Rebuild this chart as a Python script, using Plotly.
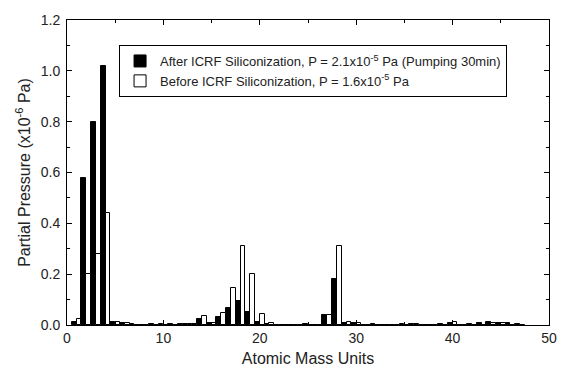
import plotly.graph_objects as go

masses = list(range(1, 48))
# Partial pressure (x1e-6 Pa), after ICRF siliconization (black)
after = {1: 0.012, 2: 0.58, 3: 0.80, 4: 1.02, 5: 0.013, 6: 0.008, 7: 0.005, 9: 0.005, 10: 0.005,
         11: 0.004, 12: 0.004, 13: 0.004, 14: 0.024, 15: 0.008, 16: 0.032, 17: 0.066, 18: 0.095,
         19: 0.05, 20: 0.012, 21: 0.005, 25: 0.004, 27: 0.04, 28: 0.18, 29: 0.008, 30: 0.006,
         32: 0.005, 35: 0.005, 36: 0.005, 39: 0.005, 40: 0.006, 42: 0.005, 43: 0.006, 44: 0.01,
         45: 0.008, 46: 0.006, 47: 0.005}
# Before ICRF siliconization (white)
before = {1: 0.025, 2: 0.20, 3: 0.28, 4: 0.44, 5: 0.012, 6: 0.006, 12: 0.004, 13: 0.004,
          14: 0.036, 15: 0.007, 16: 0.048, 17: 0.145, 18: 0.31, 19: 0.20, 20: 0.045, 21: 0.006,
          27: 0.04, 28: 0.31, 29: 0.012, 30: 0.006, 36: 0.004, 40: 0.012, 44: 0.008, 45: 0.006}

after_vals = [after.get(m, 0) for m in masses]
before_vals = [before.get(m, 0) for m in masses]

x_ticks = [0, 10, 20, 30, 40, 50]
y_ticks = [0, 0.2, 0.4, 0.6, 0.8, 1.0, 1.2]

legend_after = "After ICRF Siliconization, P = 2.1x10<sup>-5</sup> Pa (Pumping 30min)"
legend_before = "Before ICRF Siliconization, P = 1.6x10<sup>-5</sup> Pa"

fig = go.Figure()
fig.add_trace(go.Bar(x=masses, y=after_vals, name=legend_after,
                     marker=dict(color="black", line=dict(color="black", width=1))))
fig.add_trace(go.Bar(x=masses, y=before_vals, name=legend_before,
                     marker=dict(color="white", line=dict(color="black", width=1))))

font = "Liberation Sans, Arial, sans-serif"
fig.update_layout(
    width=565, height=374,
    margin=dict(l=67, r=8, t=20, b=49),
    barmode="group", bargap=0, bargroupgap=0,
    plot_bgcolor="white", paper_bgcolor="white",
    font=dict(family=font, size=14, color="#222"),
    legend=dict(x=0.108, y=0.918, xanchor="left", yanchor="top",
                bordercolor="black", borderwidth=1, bgcolor="white",
                font=dict(size=13, color="#222"), tracegroupgap=0, itemwidth=30),
    xaxis=dict(range=[0, 50], tickmode="array", tickvals=x_ticks,
               ticks="inside", ticklen=5, tickcolor="black",
               ticklabeloverflow="allow", automargin=True,
               minor=dict(tickvals=[5, 15, 25, 35, 45], ticks="inside", ticklen=3, tickcolor="black"),
               showline=True, linecolor="black", linewidth=1, mirror="allticks",
               showgrid=False, zeroline=False,
               title=dict(text="Atomic Mass Units", standoff=8, font=dict(size=16))),
    yaxis=dict(range=[0, 1.2], tickmode="array", tickvals=y_ticks,
               tickformat=".1f", ticks="inside", ticklen=5, tickcolor="black",
               ticklabelstandoff=3, ticklabeloverflow="allow", automargin=False,
               minor=dict(tickvals=[0.1, 0.3, 0.5, 0.7, 0.9, 1.1], ticks="inside", ticklen=3, tickcolor="black"),
               showline=True, linecolor="black", linewidth=1, mirror="allticks",
               showgrid=False, zeroline=False,
               title=dict(text="Partial Pressure (x10<sup>-6</sup> Pa)", standoff=6, font=dict(size=16))),
)

fig.write_html("out.html")
